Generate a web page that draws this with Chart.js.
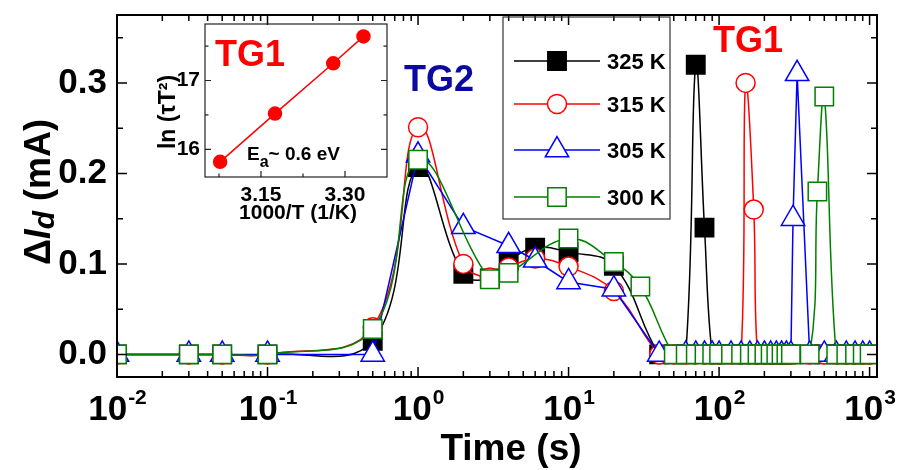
<!DOCTYPE html>
<html>
<head>
<meta charset="utf-8">
<script src="https://cdn.jsdelivr.net/npm/chart.js@4.4.0/dist/chart.umd.min.js"></script>
<style>
html, body { margin: 0; padding: 0; background: #fff; }
#wrap { position: relative; width: 899px; height: 470px; }
#main { position: absolute; left: 0; top: 0; }
#inset { position: absolute; left: 130px; top: 14px; }
</style>
</head>
<body>
<div id="wrap">
  <canvas id="main" width="899" height="470"></canvas>
  <canvas id="inset" width="265" height="216"></canvas>
</div>
<script>
// series names and colours
const temps = ["325 K", "315 K", "305 K", "300 K"];
const colores = ["#000000", "#ff0000", "#0000ff", "#008000"];

// time (s) and delta Id (mA) for each temperature
const t325 = [0.01, 0.03, 0.05, 0.1, 0.5, 1, 2, 3, 4, 6, 10, 20, 40, 50, 60, 70, 80, 90, 100,
  120, 140, 160, 180, 200, 220, 240, 260, 280, 300, 400, 500, 600, 700, 800, 900, 1000];
const i325 = [0, 0, 0, 0, 0.015, 0.207, 0.089, 0.084, 0.103, 0.118, 0.113, 0.098, 0, 0, 0, 0.32, 0.14, 0, 0,
  0, 0, 0, 0, 0, 0, 0, 0, 0, 0, 0, 0, 0, 0, 0, 0, 0];

const t315 = [0.01, 0.03, 0.05, 0.1, 0.5, 1, 2, 3, 4, 6, 10, 20, 40, 50, 60, 70, 80, 90, 100,
  120, 140, 150, 170, 180, 200, 220, 240, 260, 280, 300, 400, 500, 600, 700, 800, 900, 1000];
const i315 = [0, 0, 0, 0, 0.03, 0.251, 0.10, 0.085, 0.096, 0.106, 0.097, 0.07, 0, 0, 0, 0, 0, 0, 0,
  0, 0, 0.30, 0.16, 0, 0, 0, 0, 0, 0, 0, 0, 0, 0, 0, 0, 0, 0];

const t305 = [0.01, 0.03, 0.05, 0.1, 0.5, 1, 2, 4, 6, 10, 20, 40, 60, 70, 80, 90, 100,
  120, 140, 160, 180, 200, 220, 240, 260, 280, 300, 310, 330, 400, 500, 600, 700, 800, 900, 1000];
const i305 = [0, 0, 0, 0, 0, 0.22, 0.141, 0.12, 0.104, 0.08, 0.072, 0, 0, 0, 0, 0, 0,
  0, 0, 0, 0, 0, 0, 0, 0, 0, 0, 0.15, 0.31, 0, 0, 0, 0, 0, 0, 0];

const t300 = [0.01, 0.03, 0.05, 0.1, 0.5, 1, 3, 4, 10, 20, 30, 50, 60, 70, 80, 90, 100,
  120, 140, 160, 180, 200, 220, 240, 260, 280, 300, 400, 450, 500, 600, 700, 800, 900, 1000];
const i300 = [0, 0, 0, 0, 0.028, 0.215, 0.083, 0.09, 0.128, 0.102, 0.075, 0, 0, 0, 0, 0, 0,
  0, 0, 0, 0, 0, 0, 0, 0, 0, 0, 0, 0.18, 0.285, 0, 0, 0, 0, 0];

// ticks
const xTicks = [0.01, 0.1, 1, 10, 100, 1000];
const yTicks = [0, 0.1, 0.2, 0.3];
const yMinor = [0.05, 0.15, 0.25, 0.35];

// inset: ln(tau T^2) vs 1000/T
const invT = [3.077, 3.175, 3.279, 3.333];
const lnTauT2 = [15.82, 16.52, 17.25, 17.64];
const insetXTicks = [3.15, 3.30];
const insetYTicks = [16, 17];

const FUENTE = "'Liberation Sans', Arial, Helvetica, sans-serif";

function pares(xs, ys) {
  return xs.map((x, i) => ({ x: x, y: ys[i] }));
}

function minorLog() {
  let m = [];
  for (let k = -2; k <= 2; k++) {
    for (let j = 2; j <= 9; j++) m.push(j * Math.pow(10, k));
  }
  return m;
}

// frame with inward ticks
const marco = {
  id: "marco",
  afterDatasetsDraw(chart, args, o) {
    const ctx = chart.ctx, a = chart.chartArea;
    const sx = chart.scales.x, sy = chart.scales.y;
    ctx.save();
    ctx.strokeStyle = o.color;
    ctx.lineWidth = o.tickWidth;
    ctx.beginPath();
    const grupos = [[o.xMajor, o.major], [o.xMinor, o.minor]];
    for (const [lista, largo] of grupos) {
      for (const v of lista) {
        const px = sx.getPixelForValue(v);
        if (px < a.left - 0.5 || px > a.right + 0.5) continue;
        ctx.moveTo(px, a.bottom); ctx.lineTo(px, a.bottom - largo);
        if (o.top) { ctx.moveTo(px, a.top); ctx.lineTo(px, a.top + largo); }
      }
    }
    const gruposY = [[o.yMajor, o.major], [o.yMinor, o.minor]];
    for (const [lista, largo] of gruposY) {
      for (const v of lista) {
        const py = sy.getPixelForValue(v);
        if (py < a.top - 0.5 || py > a.bottom + 0.5) continue;
        ctx.moveTo(a.left, py); ctx.lineTo(a.left + largo, py);
        ctx.moveTo(a.right, py); ctx.lineTo(a.right - largo, py);
      }
    }
    ctx.stroke();
    ctx.lineWidth = o.width;
    ctx.strokeRect(a.left, a.top, a.right - a.left, a.bottom - a.top);
    ctx.restore();
  }
};

// texts, legend and x tick labels of the main chart
const textos = {
  id: "textos",
  afterDraw(chart) {
    const ctx = chart.ctx;
    const sx = chart.scales.x;
    ctx.save();
    ctx.fillStyle = "#000";
    ctx.textBaseline = "alphabetic";

    // x tick labels 10^n
    for (const v of xTicks) {
      const e = String(Math.round(Math.log10(v)));
      const px = sx.getPixelForValue(v);
      ctx.font = "bold 35px " + FUENTE;
      const w1 = ctx.measureText("10").width;
      ctx.font = "bold 21px " + FUENTE;
      const w2 = ctx.measureText(e).width;
      const x0 = px - (w1 + w2) / 2;
      ctx.font = "bold 35px " + FUENTE;
      ctx.textAlign = "left";
      ctx.fillText("10", x0, 420);
      ctx.font = "bold 21px " + FUENTE;
      ctx.fillText(e, x0 + w1 + 1, 404);
    }

    // x title
    ctx.font = "bold 37px " + FUENTE;
    ctx.textAlign = "center";
    ctx.fillText("Time (s)", 511, 460);

    // y title: ΔId (mA)
    ctx.save();
    ctx.translate(50, 192);
    ctx.rotate(-Math.PI / 2);
    const partes = [
      ["\u0394", "bold 36px " + FUENTE, 0],
      ["I", "italic bold 36px " + FUENTE, 0],
      ["d", "italic bold 30px " + FUENTE, 4],
      [" (mA)", "bold 36px " + FUENTE, 0]
    ];
    let total = 0;
    for (const p of partes) { ctx.font = p[1]; total += ctx.measureText(p[0]).width; }
    let x = -total / 2;
    ctx.textAlign = "left";
    for (const p of partes) {
      ctx.font = p[1];
      ctx.fillText(p[0], x, p[2]);
      x += ctx.measureText(p[0]).width;
    }
    ctx.restore();

    // peak labels
    ctx.textAlign = "left";
    ctx.font = "bold 36px " + FUENTE;
    ctx.fillStyle = "#0a0aa0";
    ctx.fillText("TG2", 404, 91);
    ctx.fillStyle = "#ff0000";
    ctx.fillText("TG1", 713, 52);

    // legend
    ctx.strokeStyle = "#333";
    ctx.lineWidth = 1.2;
    ctx.strokeRect(503, 17, 167, 202);
    const filas = [61, 104, 150, 197];
    chart.data.datasets.forEach((ds, i) => {
      const y = filas[i];
      ctx.strokeStyle = ds.borderColor;
      ctx.lineWidth = 1.5;
      ctx.beginPath();
      ctx.moveTo(514, y); ctx.lineTo(600, y);
      ctx.stroke();
      ctx.fillStyle = ds.pointBackgroundColor;
      Chart.helpers.drawPoint(ctx, {
        pointStyle: ds.pointStyle, radius: ds.pointRadius, rotation: 0, borderWidth: 1.5
      }, 557, y);
      ctx.fillStyle = "#000";
      ctx.font = "bold 22px " + FUENTE;
      ctx.fillText(ds.label, 607, y + 8);
    });
    ctx.restore();
  }
};

function serie(i, t, v, estilo, radio, relleno, tension, orden) {
  return {
    label: temps[i],
    data: pares(t, v),
    borderColor: colores[i],
    borderWidth: 1.5,
    pointStyle: estilo,
    pointRadius: radio,
    pointBackgroundColor: relleno,
    pointBorderColor: colores[i],
    pointBorderWidth: 1.5,
    tension: tension,
    order: orden
  };
}

const main = new Chart(document.getElementById("main"), {
  type: "line",
  data: {
    datasets: [
      serie(0, t325, i325, "rect", 13, "#000000", 0.4, 3),
      serie(1, t315, i315, "circle", 9.5, "#ffffff", 0.4, 2),
      serie(2, t305, i305, "triangle", 13.5, "#ffffff", 0, 1),
      serie(3, t300, i300, "rect", 13, "#ffffff", 0.4, 0)
    ]
  },
  options: {
    responsive: false,
    animation: false,
    events: [],
    layout: { padding: { top: 10, right: 22, left: 0, bottom: 0 } },
    plugins: {
      legend: { display: false },
      tooltip: { enabled: false },
      marco: {
        color: "#000", width: 2, tickWidth: 1.5, major: 10, minor: 6, top: true,
        xMajor: xTicks, xMinor: minorLog(), yMajor: yTicks, yMinor: yMinor
      }
    },
    scales: {
      x: {
        type: "logarithmic",
        min: 0.01,
        max: 1120,
        grid: { display: false, drawTicks: false },
        border: { display: false },
        ticks: { display: false },
        afterFit(s) { s.height = 93; s.paddingLeft = 0; s.paddingRight = 0; }
      },
      y: {
        min: -0.025,
        max: 0.375,
        grid: { display: false, drawTicks: false },
        border: { display: false },
        ticks: {
          color: "#000",
          padding: 10,
          autoSkip: false,
          font: { family: FUENTE, size: 35, weight: "bold" },
          callback: (v) => Number(v).toFixed(1)
        },
        afterBuildTicks(s) { s.ticks = yTicks.map((v) => ({ value: v })); },
        afterFit(s) { s.width = 117; s.paddingTop = 0; s.paddingBottom = 0; }
      }
    }
  },
  plugins: [marco, textos]
});

// inset texts
const textosInset = {
  id: "textosInset",
  afterDraw(chart) {
    const ctx = chart.ctx;
    ctx.save();
    ctx.textBaseline = "alphabetic";
    ctx.textAlign = "left";
    ctx.fillStyle = "#ff0000";
    ctx.font = "bold 36px " + FUENTE;
    ctx.fillText("TG1", 85, 52);

    ctx.fillStyle = "#000";
    ctx.font = "bold 19px " + FUENTE;
    ctx.fillText("E", 117, 146);
    const wE = ctx.measureText("E").width;
    ctx.font = "bold 16px " + FUENTE;
    ctx.fillText("a", 117 + wE, 153);
    const wa = ctx.measureText("a").width;
    ctx.font = "bold 19px " + FUENTE;
    ctx.fillText("~ 0.6 eV", 117 + wE + wa, 146);

    ctx.font = "bold 21px " + FUENTE;
    ctx.textAlign = "center";
    ctx.fillText("1000/T (1/K)", 168, 205);

    ctx.save();
    ctx.translate(45, 98);
    ctx.rotate(-Math.PI / 2);
    ctx.font = "bold 23px " + FUENTE;
    ctx.fillText("ln (\u03C4T\u00B2)", 0, 0);
    ctx.restore();
    ctx.restore();
  }
};

const inset = new Chart(document.getElementById("inset"), {
  type: "scatter",
  data: {
    datasets: [{
      data: pares(invT, lnTauT2),
      showLine: true,
      borderColor: "#ff0000",
      borderWidth: 1.5,
      pointRadius: 6.5,
      pointBackgroundColor: "#ff0000",
      pointBorderColor: "#ff0000"
    }]
  },
  options: {
    responsive: false,
    animation: false,
    events: [],
    layout: { padding: { top: 10, right: 4, left: 0, bottom: 0 } },
    plugins: {
      legend: { display: false },
      tooltip: { enabled: false },
      marco: {
        color: "#222", width: 1.2, tickWidth: 1.2, major: 6, minor: 3.5, top: false,
        xMajor: insetXTicks, xMinor: [3.075, 3.225], yMajor: insetYTicks, yMinor: [16.5, 17.5]
      }
    },
    scales: {
      x: {
        type: "linear",
        min: 3.05,
        max: 3.375,
        grid: { display: false, drawTicks: false },
        border: { display: false },
        ticks: {
          color: "#000",
          padding: 6,
          autoSkip: false,
          maxRotation: 0,
          font: { family: FUENTE, size: 21, weight: "bold" },
          callback: (v) => Number(v).toFixed(2)
        },
        afterBuildTicks(s) { s.ticks = insetXTicks.map((v) => ({ value: v })); },
        afterFit(s) { s.height = 53; s.paddingLeft = 0; s.paddingRight = 0; }
      },
      y: {
        type: "linear",
        min: 15.6,
        max: 17.82,
        grid: { display: false, drawTicks: false },
        border: { display: false },
        ticks: {
          color: "#000",
          padding: 5,
          autoSkip: false,
          font: { family: FUENTE, size: 21, weight: "bold" },
          callback: (v) => String(v)
        },
        afterBuildTicks(s) { s.ticks = insetYTicks.map((v) => ({ value: v })); },
        afterFit(s) { s.width = 75; s.paddingTop = 0; s.paddingBottom = 0; }
      }
    }
  },
  plugins: [marco, textosInset]
});
</script>
</body>
</html>
